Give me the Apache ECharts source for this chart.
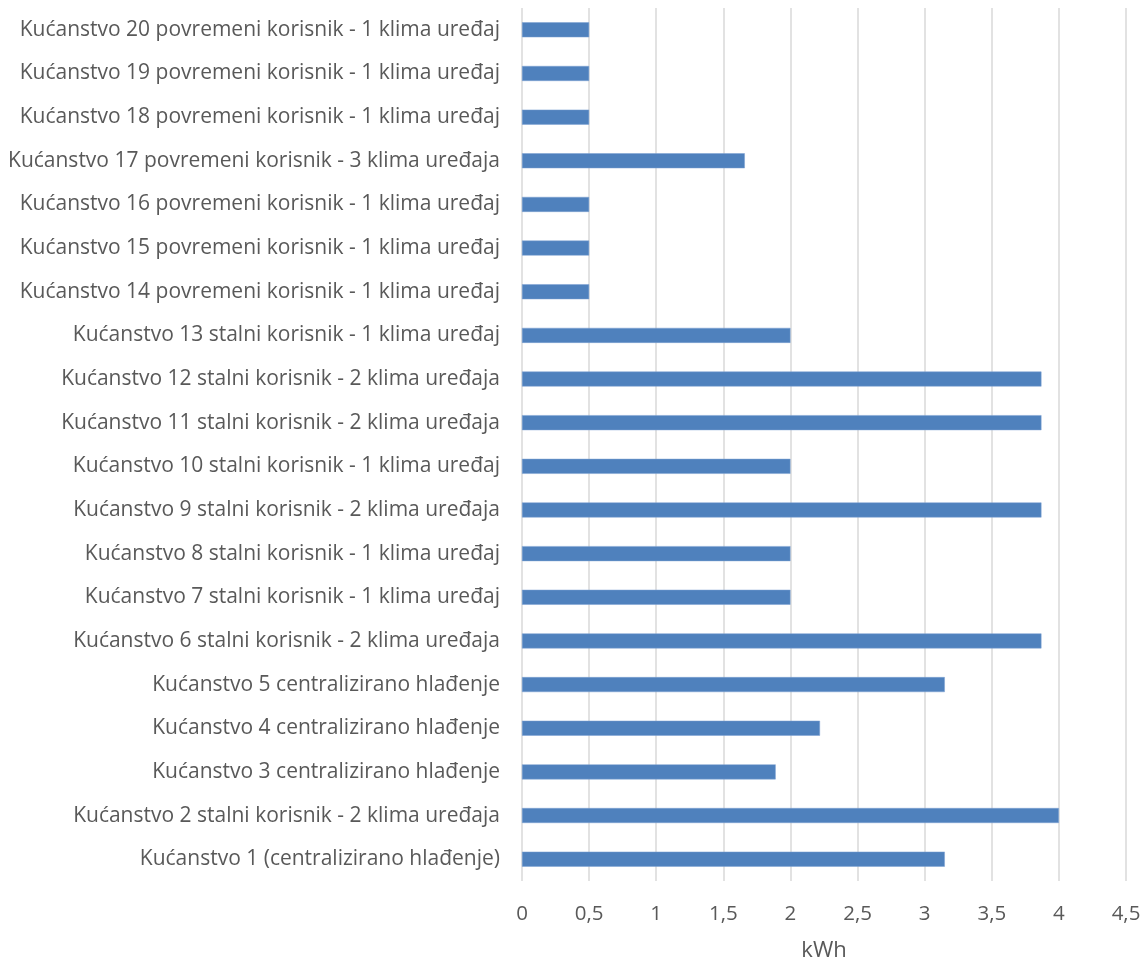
<!DOCTYPE html>
<html>
<head>
    <meta charset="utf-8">
    <title>Kućanstva - kWh</title>
    <script src="https://cdn.jsdelivr.net/npm/echarts@6/dist/echarts.min.js"></script>
    <style>
        html, body { margin: 0; padding: 0; background: #fff; }
        #main { width: 1148px; height: 962px; }
    </style>
</head>
<body>
    <div id="main"></div>
    <script type="text/javascript">
        // categories, bottom to top (as in the picture)
        var households = [
            'Kućanstvo 1 (centralizirano hlađenje)',
            'Kućanstvo 2 stalni korisnik - 2 klima uređaja',
            'Kućanstvo 3 centralizirano hlađenje',
            'Kućanstvo 4 centralizirano hlađenje',
            'Kućanstvo 5 centralizirano hlađenje',
            'Kućanstvo 6 stalni korisnik - 2 klima uređaja',
            'Kućanstvo 7 stalni korisnik - 1 klima uređaj',
            'Kućanstvo 8 stalni korisnik - 1 klima uređaj',
            'Kućanstvo 9 stalni korisnik - 2 klima uređaja',
            'Kućanstvo 10 stalni korisnik - 1 klima uređaj',
            'Kućanstvo 11 stalni korisnik - 2 klima uređaja',
            'Kućanstvo 12 stalni korisnik - 2 klima uređaja',
            'Kućanstvo 13 stalni korisnik - 1 klima uređaj',
            'Kućanstvo 14 povremeni korisnik - 1 klima uređaj',
            'Kućanstvo 15 povremeni korisnik - 1 klima uređaj',
            'Kućanstvo 16 povremeni korisnik - 1 klima uređaj',
            'Kućanstvo 17 povremeni korisnik - 3 klima uređaja',
            'Kućanstvo 18 povremeni korisnik - 1 klima uređaj',
            'Kućanstvo 19 povremeni korisnik - 1 klima uređaj',
            'Kućanstvo 20 povremeni korisnik - 1 klima uređaj'
        ];
        var kwh = [3.15, 4.0, 1.89, 2.22, 3.15, 3.87, 2.0, 2.0, 3.87, 2.0,
                   3.87, 3.87, 2.0, 0.5, 0.5, 0.5, 1.66, 0.5, 0.5, 0.5];
        var axisMax = 4.5;
        var axisStep = 0.5;
        var unitName = 'kWh';

        var textColor = '#595959';
        var fontFamily = '"Open Sans", sans-serif';

        var myChart = echarts.init(document.getElementById('main'));
        var option = {
            backgroundColor: '#fff',
            animation: false,
            grid: {
                left: 522, right: 22, top: 8, bottom: 81,
                containLabel: false,
                outerBoundsMode: 'none'
            },
            xAxis: {
                type: 'value',
                min: 0,
                max: axisMax,
                interval: axisStep,
                name: unitName,
                nameLocation: 'middle',
                nameGap: 59,
                nameTextStyle: { color: textColor, fontSize: 22, fontFamily: fontFamily },
                axisLine: { show: false },
                axisTick: { show: false },
                axisLabel: {
                    color: textColor, fontSize: 20.5, fontFamily: fontFamily, margin: 23,
                    formatter: function (v) { return String(v).replace('.', ','); }
                },
                splitLine: { show: true, lineStyle: { color: '#D9D9D9', width: 1.5 } }
            },
            yAxis: {
                type: 'category',
                data: households,
                axisLine: { show: false },
                axisTick: { show: false },
                axisLabel: { color: textColor, fontSize: 21, fontFamily: fontFamily, margin: 22 }
            },
            series: [{
                type: 'bar',
                data: kwh,
                barWidth: 15,
                itemStyle: { color: '#4F81BD', borderColor: '#7DA1D3', borderWidth: 0.5 }
            }]
        };
        myChart.setOption(option);
    </script>
</body>
</html>
